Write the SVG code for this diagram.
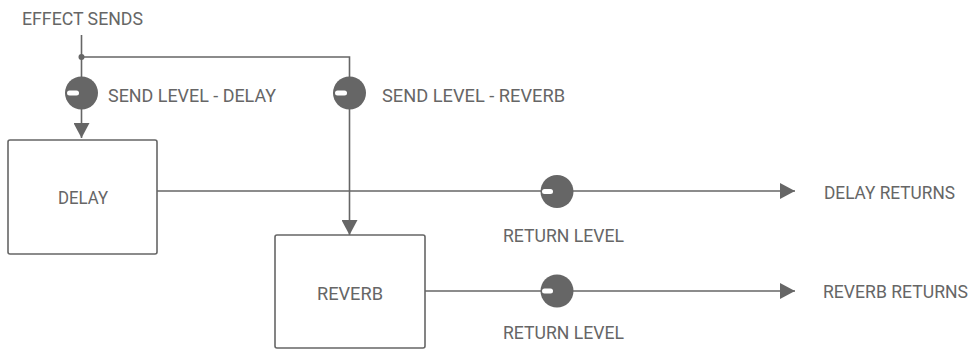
<svg xmlns="http://www.w3.org/2000/svg" width="973" height="349" viewBox="0 0 973 349">
<style>
text{font-family:Roboto,"Liberation Sans",sans-serif;font-size:19px;fill:#666;}
.box{fill:#fff;stroke:#666;stroke-width:1.6;}
.ln{fill:none;stroke:#666;stroke-width:1.6;}
.knob{fill:#666;}
.bar{fill:#fff;}
</style>
<defs>
<marker id="arrL" viewBox="0 0 15 16" refX="15" refY="8" markerWidth="15" markerHeight="16" markerUnits="userSpaceOnUse" orient="auto">
<path d="M0,0 L15,8 L0,16 Z" fill="#666"/>
</marker>
</defs>
<rect width="973" height="349" fill="#fff"/>
<text x="22" y="25" textLength="121" lengthAdjust="spacingAndGlyphs">EFFECT SENDS</text>
<g id="connectors">
<path class="ln" d="M81.5,35 V138" marker-end="url(#arrL)"/>
<path class="ln" d="M81.5,57 H349.5 V235" marker-end="url(#arrL)"/>
<circle cx="81.5" cy="57" r="3" fill="#666"/>
<path class="ln" d="M157,191 H795" marker-end="url(#arrL)"/>
<path class="ln" d="M425,291 H795" marker-end="url(#arrL)"/>
</g>
<g id="send-delay">
<circle class="knob" cx="81.5" cy="93" r="16.5"/>
<rect class="bar" x="67" y="90.5" width="12" height="5" rx="2.5"/>
<text x="108" y="102" textLength="168" lengthAdjust="spacingAndGlyphs">SEND LEVEL - DELAY</text>
</g>
<g id="send-reverb">
<circle class="knob" cx="349.5" cy="93" r="16.5"/>
<rect class="bar" x="335" y="90.5" width="12" height="5" rx="2.5"/>
<text x="382" y="102" textLength="183" lengthAdjust="spacingAndGlyphs">SEND LEVEL - REVERB</text>
</g>
<g id="delay">
<rect class="box" x="8" y="140" width="149" height="114" rx="2"/>
<text x="58" y="204" textLength="50" lengthAdjust="spacingAndGlyphs">DELAY</text>
</g>
<g id="reverb">
<rect class="box" x="275" y="235" width="150" height="113" rx="2"/>
<text x="317" y="300" textLength="66" lengthAdjust="spacingAndGlyphs">REVERB</text>
</g>
<g id="return-delay">
<circle class="knob" cx="557" cy="191.5" r="16.5"/>
<rect class="bar" x="542" y="189" width="11" height="5" rx="2.5"/>
<text x="503" y="242" textLength="121" lengthAdjust="spacingAndGlyphs">RETURN LEVEL</text>
</g>
<g id="return-reverb">
<circle class="knob" cx="557" cy="291" r="16.5"/>
<rect class="bar" x="542" y="288.5" width="11" height="5" rx="2.5"/>
<text x="503" y="339" textLength="121" lengthAdjust="spacingAndGlyphs">RETURN LEVEL</text>
</g>
<g id="delay-returns">
<text x="824" y="199" textLength="131" lengthAdjust="spacingAndGlyphs">DELAY RETURNS</text>
</g>
<g id="reverb-returns">
<text x="823" y="298" style="font-size:18px" textLength="145" lengthAdjust="spacingAndGlyphs">REVERB RETURNS</text>
</g>
</svg>
